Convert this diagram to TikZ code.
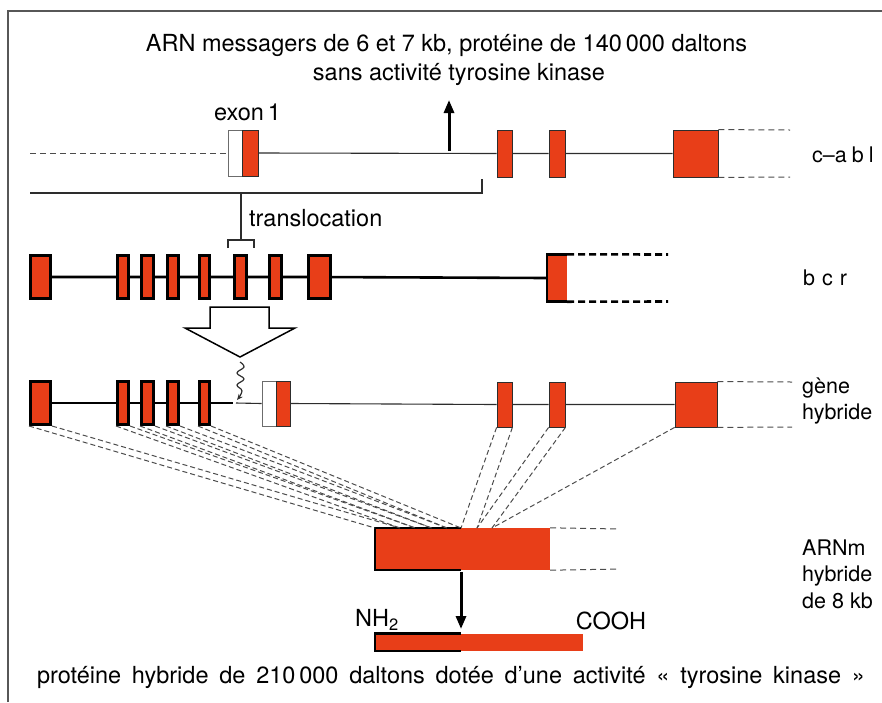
\documentclass[tikz,border=0pt]{standalone}
\usepackage{fontspec}
\setmainfont{TeX Gyre Heros}
\usetikzlibrary{arrows.meta}
\definecolor{exred}{RGB}{232,62,24}
\definecolor{ink}{RGB}{45,45,45}
\tikzset{
  ablex/.style={draw=ink, line width=0.8pt, fill=exred, inner sep=0pt, minimum height=46pt},
  ablwhite/.style={draw=ink!70, line width=0.8pt, fill=white, inner sep=0pt, minimum height=46pt},
  bcrex/.style={draw=black, line width=2.6pt, fill=exred, inner sep=0pt, minimum height=43.4pt},
  redpart/.style={fill=exred, inner sep=0pt},
  thinline/.style={ink, line width=1.1pt},
  thickline/.style={black, line width=2.6pt},
  splice/.style={ink!85, line width=1pt, dash pattern=on 5pt off 3pt},
  tail/.style={ink!85, line width=1pt, dash pattern=on 6pt off 4pt},
  bigtxt/.style={font=\fontsize{23.5}{27}\selectfont, inner sep=0pt},
  sidetxt/.style={font=\fontsize{21.5}{26.5}\selectfont, inner sep=0pt, anchor=west, align=left},
  bigarrow/.style={line width=3pt, -{Triangle[length=13pt,width=10pt]}},
}
\begin{document}
\begin{tikzpicture}[x=1pt,y=-1pt]
\useasboundingbox (0,0) rectangle (882,702);
% frame
\draw[ink!80, line width=2pt] (8,702) -- (8,11) -- (882,11);

% heading
\node[bigtxt] (t1) at (446.5,45) {ARN messagers de 6 et 7 kb, protéine de 140\,000 daltons};
\node[bigtxt] (t2) at (459,74) {sans activité tyrosine kinase};

% ---------------- c-abl ----------------
\node[bigtxt, anchor=west] (ex1) at (214,112) {exon\,1};
\node[ablwhite, minimum width=14pt] (a1w) at (235,153) {};
\node[ablex, minimum width=16pt] (a1r) at (250,153) {};
\node[ablex, minimum width=15pt, minimum height=47pt] (a2) at (504.5,153.5) {};
\node[ablex, minimum width=16pt, minimum height=47pt] (a3) at (557,153.5) {};
\node[ablex, minimum width=45pt, minimum height=47pt] (a4) at (695.5,153.5) {};
\coordinate (a0) at (30,153);
\draw[tail] (a0) -- (a1w.west);
\draw[thinline] (a1r.east) -- (a2.west) (a2.east) -- (a3.west) (a3.east) -- (a4.west);
\coordinate (a4t) at (790,130);
\coordinate (a4b) at (790,177);
\draw[tail] (a4.north east) -- (a4t) (a4.south east) -- (a4b);
\node[sidetxt] (labl) at (812,155) {c–a\hspace{5pt}b\hspace{5pt}l};

% transcription arrow of c-abl
\coordinate (up0) at (449,151);
\coordinate (up1) at (449,100);
\draw[bigarrow] (up0) -- (up1);

% translocation bracket
\coordinate (br0) at (30,193);
\coordinate (br1) at (482,193);
\coordinate (br2) at (482,179);
\coordinate (bm0) at (241,193);
\coordinate (bm1) at (241,240);
\coordinate (bl) at (228,248);
\coordinate (bl1) at (228,240);
\coordinate (br3) at (254,240);
\coordinate (br4) at (254,248);
\draw[thinline] (br0) -- (br1) -- (br2);
\draw[thinline] (bm0) -- (bm1);
\draw[thinline] (bl) -- (bl1) -- (br3) -- (br4);
\node[bigtxt, anchor=west] (trans) at (249,218) {translocation};

% ---------------- bcr ----------------
\node[bcrex, minimum width=20.4pt] (b1) at (40.5,277) {};
\node[bcrex, minimum width=11.4pt] (b2) at (123,277) {};
\node[bcrex, minimum width=12.4pt] (b3) at (147.5,277) {};
\node[bcrex, minimum width=11.4pt] (b4) at (173,277) {};
\node[bcrex, minimum width=10.4pt] (b5) at (204.5,277) {};
\node[bcrex, minimum width=12.4pt] (b6) at (240.5,277) {};
\node[bcrex, minimum width=12.4pt] (b7) at (275.5,277) {};
\node[bcrex, minimum width=22.4pt] (b8) at (319.5,277) {};
\node[redpart, minimum width=20pt, minimum height=47pt] (b9) at (557,278) {};
\draw[thickline] (b1) -- (b2) -- (b3) -- (b4) -- (b5) -- (b6) -- (b7) -- (b8) -- (b9.west);
\draw[thickline] (b9.north east) -- (b9.north west) -- (b9.south west) -- (b9.south east);
\coordinate (b9t) at (668,254.5);
\coordinate (b9b) at (668,301.5);
\draw[thickline, dash pattern=on 7pt off 4pt] (b9.north east) -- (b9t) (b9.south east) -- (b9b);
\node[sidetxt] (lbcr) at (803,278) {b\hspace{7pt}c\hspace{7pt}r};

% hollow arrow
\draw[black, line width=1.5pt, fill=white, line join=miter]
  (210,307) -- (269,307) -- (269,328) -- (295,328) -- (240,357) -- (185,328) -- (210,328) -- cycle;

% ---------------- hybrid gene ----------------
\node[bcrex, minimum width=20.4pt] (h1) at (40.5,403) {};
\node[bcrex, minimum width=11.4pt] (h2) at (123,403) {};
\node[bcrex, minimum width=12.4pt] (h3) at (147.5,403) {};
\node[bcrex, minimum width=11.4pt] (h4) at (173,403) {};
\node[bcrex, minimum width=10.4pt] (h5) at (204.5,403) {};
\coordinate (hbrk) at (233,403);
\coordinate (hbrk2) at (236,403);
\draw[thickline] (h1) -- (h2) -- (h3) -- (h4) -- (h5) -- (hbrk);
\node[ablwhite, minimum width=14pt, minimum height=45pt] (h6w) at (269,403.5) {};
\node[ablex, minimum width=14pt, minimum height=45pt] (h6r) at (283,403.5) {};
\node[ablex, minimum width=15pt, minimum height=45pt] (h7) at (504.5,404.5) {};
\node[ablex, minimum width=16pt, minimum height=45pt] (h8) at (557,404.5) {};
\node[ablex, minimum width=42pt, minimum height=45pt] (h9) at (696,404.5) {};
\draw[thinline] (hbrk2) -- (h6w.west) (h6r.east) -- (h7.west) (h7.east) -- (h8.west) (h8.east) -- (h9.west);
\coordinate (h9t) at (792,382);
\coordinate (h9b) at (792,427);
\draw[tail] (h9.north east) -- (h9t) (h9.south east) -- (h9b);
\node[sidetxt] (lhyb) at (802,401) {gène\\hybride};

% breakpoint squiggle
\draw[ink, line width=1.2pt, -{Stealth[length=6pt,width=5pt]}]
  plot[smooth, tension=0.7] coordinates {(240,362) (244,367) (237,373) (244,379) (237,385) (242,391) (237,400)};

% ---------------- hybrid mRNA ----------------
\node[redpart, minimum width=86pt, minimum height=42pt] (mb) at (418,549) {};
\node[redpart, minimum width=89pt, minimum height=42pt] (ma) at (505.5,549) {};
\draw[black, line width=2.4pt] (mb.north east) -- (mb.north west) -- (mb.south west) -- (mb.south east);
\coordinate (m1) at (375,528);
\coordinate (m2) at (400,528);
\coordinate (m3) at (415.3,528);
\coordinate (m4) at (431.6,528);
\coordinate (m5) at (446.9,528);
\coordinate (m6) at (461,528);
\coordinate (m7) at (477,528);
\coordinate (m8) at (492,528);
\draw[splice] (h1.south west) -- (m1) (h1.south east) -- (m2);
\draw[splice] (h2.south west) -- (m2) (h2.south east) -- (m3);
\draw[splice] (h3.south west) -- (m3) (h3.south east) -- (m4);
\draw[splice] (h4.south west) -- (m4) (h4.south east) -- (m5);
\draw[splice] (h5.south west) -- (m5) (h5.south east) -- (m6);
\draw[splice] (h7.south west) -- (m6) (h7.south east) -- (m7);
\draw[splice] (h8.south west) -- (m7) (h8.south east) -- (m8);
\draw[splice] (h9.south west) -- (m8);
\coordinate (mt) at (620,529);
\coordinate (mbt) at (620,569);
\draw[tail] (ma.north east) -- (mt) (ma.south east) -- (mbt);
\node[sidetxt] (lmrna) at (802,574) {ARNm\\hybride\\de 8 kb};

% translation arrow
\coordinate (dn0) at (461,572);
\coordinate (dn1) at (461,629);
\draw[bigarrow] (dn0) -- (dn1);

% ---------------- hybrid protein ----------------
\node[redpart, minimum width=86pt, minimum height=17pt] (pb) at (418,642) {};
\node[redpart, minimum width=122pt, minimum height=17pt] (pa) at (522,642) {};
\draw[black, line width=2.4pt] (pb.north east) -- (pb.north west) -- (pb.south west) -- (pb.south east);
\node[bigtxt] (nh2) at (377,620) {NH\textsubscript{2}};
\node[bigtxt] (cooh) at (611,621) {COOH};

\node[bigtxt] (prot) at (451,677)
  {\makebox[828pt][s]{protéine hybride de 210\,000 daltons dotée d’une activité « tyrosine kinase »}};
\end{tikzpicture}
\end{document}
